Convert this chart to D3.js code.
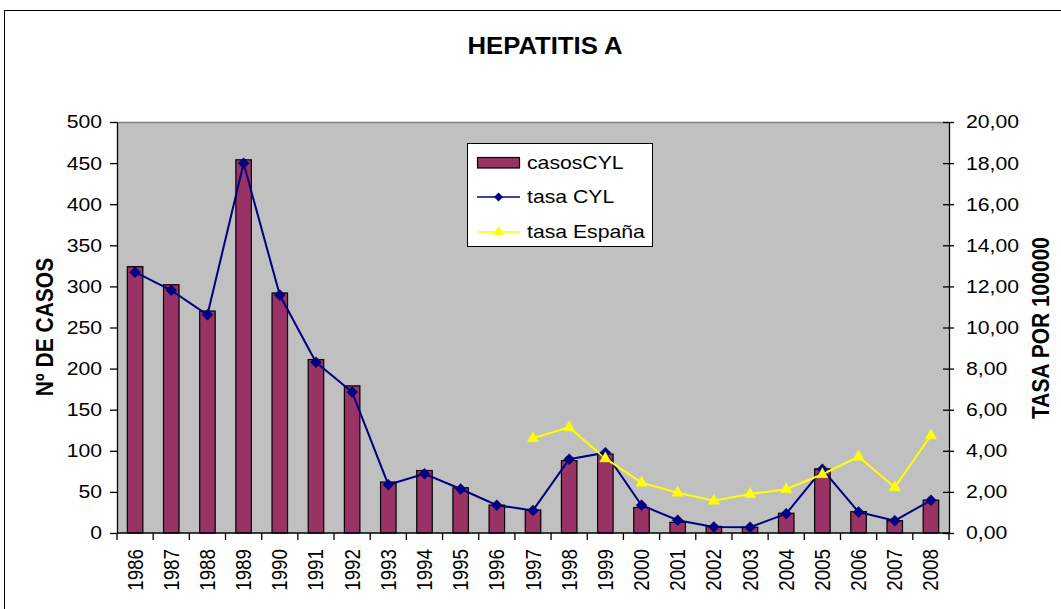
<!DOCTYPE html>
<html>
<head>
<meta charset="utf-8">
<script src="https://cdn.jsdelivr.net/npm/d3@7"></script>
<style>
  html, body { margin: 0; padding: 0; background: #fff; }
  svg { display: block; }
  text { font-family: "Liberation Sans", Arial, Helvetica, sans-serif; fill: #000; }
</style>
</head>
<body>
<svg id="chart" width="1061" height="609"></svg>
<script>
// Hepatitis A: reported cases in Castilla y León (bars, left axis)
// and rates per 100 000 inhabitants (lines, right axis).
const years = ["1986","1987","1988","1989","1990","1991","1992","1993","1994","1995","1996","1997",
               "1998","1999","2000","2001","2002","2003","2004","2005","2006","2007","2008"];
const casosCYL = [324, 302, 270, 454, 292, 211, 179, 62, 76, 55, 34, 28,
                  88, 96, 31, 13, 8, 7, 24, 78, 26, 15, 40];
const tasaCYL = [12.69, 11.81, 10.62, 17.99, 11.58, 8.31, 6.86, 2.35, 2.88, 2.14, 1.35, 1.10,
                 3.59, 3.91, 1.35, 0.62, 0.29, 0.28, 0.94, 3.10, 1.02, 0.60, 1.59];
const yearsEsp = ["1997","1998","1999","2000","2001","2002","2003","2004","2005","2006","2007","2008"];
const tasaEspana = [4.61, 5.14, 3.63, 2.45, 1.96, 1.57, 1.90, 2.13, 2.86, 3.71, 2.22, 4.75];
const casosTicks = [0, 50, 100, 150, 200, 250, 300, 350, 400, 450, 500];
const tasaTicks = [0, 2, 4, 6, 8, 10, 12, 14, 16, 18, 20];
const seriesNames = ["casosCYL", "tasa CYL", "tasa España"];

const svg = d3.select("#chart");
const X0 = 117, X1 = 949, Y0 = 533, Y1 = 122;
const STRETCH = 1.14;  // wide lettering used throughout the chart

const x = d3.scaleBand().domain(years).range([X0, X1]).paddingInner(0).paddingOuter(0);
const yL = d3.scaleLinear().domain([0, 500]).range([Y0, Y1]);
const yR = d3.scaleLinear().domain([0, 20]).range([Y0, Y1]);
const fmtRate = v => d3.format(".2f")(v).replace(".", ",");

// outer chart frame
svg.append("rect").attr("x", 4.5).attr("y", 10.5).attr("width", 1200).attr("height", 800)
  .attr("fill", "#fff").attr("stroke", "#000").attr("stroke-width", 1);

// title
svg.append("g").attr("transform", "translate(545,54)")
  .append("text").attr("text-anchor", "middle").attr("transform", "scale(1.07,1)")
  .style("font-size", "24px").style("font-weight", "bold").text("HEPATITIS A");

// plot area
svg.append("rect").attr("x", X0).attr("y", Y1).attr("width", X1 - X0).attr("height", Y0 - Y1)
  .attr("fill", "#C0C0C0");
svg.append("line").attr("x1", X0).attr("x2", X1).attr("y1", Y1 + 0.5).attr("y2", Y1 + 0.5)
  .attr("stroke", "#808080").attr("stroke-width", 1.5);

// bars
const barW = 15.5;
svg.append("g").selectAll("rect").data(years).join("rect")
  .attr("x", d => x(d) + x.bandwidth() / 2 - barW / 2)
  .attr("y", (d, i) => yL(casosCYL[i]))
  .attr("width", barW)
  .attr("height", (d, i) => Y0 - yL(casosCYL[i]))
  .attr("fill", "#993366").attr("stroke", "#000").attr("stroke-width", 1.2);

function stretchAxisText(g) {
  g.selectAll("text").each(function () {
    const t = d3.select(this);
    const xv = +t.attr("x") || 0;
    t.attr("x", xv / STRETCH).attr("transform", `scale(${STRETCH},1)`);
  });
}

// left axis
const axL = svg.append("g").attr("transform", `translate(${X0},0)`)
  .call(d3.axisLeft(yL).tickValues(casosTicks).tickSize(7).tickPadding(8).tickSizeOuter(0));
axL.select(".domain").attr("stroke", "#000").attr("stroke-width", 1.3);
axL.selectAll("line").attr("stroke", "#000").attr("stroke-width", 1.3);
axL.selectAll("text").style("font-size", "18.6px").style("font-family", null);
axL.call(stretchAxisText);

// right axis (ticks cross the axis line)
const axR = svg.append("g").attr("transform", `translate(${X1},0)`)
  .call(d3.axisRight(yR).tickValues(tasaTicks).tickFormat(fmtRate).tickSize(5).tickPadding(12).tickSizeOuter(0));
axR.select(".domain").attr("stroke", "#000").attr("stroke-width", 1.3);
axR.selectAll(".tick line").attr("x1", -6).attr("stroke", "#000").attr("stroke-width", 1.3);
axR.selectAll("text").style("font-size", "18.6px").style("font-family", null);
axR.call(stretchAxisText);
svg.append("line").attr("x1", X1).attr("x2", X1).attr("y1", Y0).attr("y2", Y0 + 7)
  .attr("stroke", "#000").attr("stroke-width", 1.3);

// bottom axis: ticks on category boundaries, labels rotated
const axB = svg.append("g");
axB.append("line").attr("x1", X0).attr("x2", X1).attr("y1", Y0).attr("y2", Y0)
  .attr("stroke", "#000").attr("stroke-width", 1.3);
axB.selectAll("line.tk").data(years).join("line").attr("class", "tk")
  .attr("x1", d => x(d)).attr("x2", d => x(d)).attr("y1", Y0).attr("y2", Y0 + 7)
  .attr("stroke", "#000").attr("stroke-width", 1.3);
axB.selectAll("g.lbl").data(years).join("g").attr("class", "lbl")
  .attr("transform", d => `translate(${x(d) + x.bandwidth() / 2},549)`)
  .append("text").attr("text-anchor", "end").attr("dy", "0.35em")
  .attr("transform", `scale(${STRETCH},1) rotate(-90)`)
  .style("font-size", "18.8px").text(d => d);

// axis titles
svg.append("g").attr("transform", "translate(45,327)")
  .append("text").attr("text-anchor", "middle").attr("dy", "0.35em")
  .attr("transform", `scale(1.12,1) rotate(-90)`)
  .style("font-size", "21px").style("font-weight", "bold").text("Nº DE CASOS");
svg.append("g").attr("transform", "translate(1041,328)")
  .append("text").attr("text-anchor", "middle").attr("dy", "0.35em")
  .attr("transform", `scale(1.12,1) rotate(-90)`)
  .style("font-size", "21px").style("font-weight", "bold").text("TASA POR 100000");

// rate lines
const lineCYL = d3.line().x((d, i) => x(years[i]) + x.bandwidth() / 2).y(d => yR(d));
svg.append("path").datum(tasaCYL).attr("d", lineCYL)
  .attr("fill", "none").attr("stroke", "#000080").attr("stroke-width", 2);

const lineEsp = d3.line().x((d, i) => x(yearsEsp[i]) + x.bandwidth() / 2).y(d => yR(d));
svg.append("path").datum(tasaEspana).attr("d", lineEsp)
  .attr("fill", "none").attr("stroke", "#FFFF00").attr("stroke-width", 2);

// markers
const diamond = s => `M0,${-s}L${s},0L0,${s}L${-s},0Z`;
const triangle = s => `M0,${-s}L${s},${s * 0.8}L${-s},${s * 0.8}Z`;
svg.append("g").selectAll("path").data(tasaCYL).join("path")
  .attr("transform", (d, i) => `translate(${x(years[i]) + x.bandwidth() / 2},${yR(d)})`)
  .attr("d", diamond(5.5)).attr("fill", "#000080").attr("stroke", "#000080").attr("stroke-width", 0.5);
svg.append("g").selectAll("path").data(tasaEspana).join("path")
  .attr("transform", (d, i) => `translate(${x(yearsEsp[i]) + x.bandwidth() / 2},${yR(d) - 1})`)
  .attr("d", triangle(5.6)).attr("fill", "#FFFF00").attr("stroke", "#FFFF00").attr("stroke-width", 0.5);

// legend
const lg = svg.append("g");
lg.append("rect").attr("x", 467.5).attr("y", 143.5).attr("width", 185).attr("height", 103)
  .attr("fill", "#fff").attr("stroke", "#000").attr("stroke-width", 1);
const rowY = [162.5, 197, 232];
lg.append("rect").attr("x", 477.5).attr("y", rowY[0] - 5).attr("width", 42).attr("height", 10.5)
  .attr("fill", "#993366").attr("stroke", "#000").attr("stroke-width", 1.2);
lg.append("line").attr("x1", 477).attr("x2", 520).attr("y1", rowY[1]).attr("y2", rowY[1])
  .attr("stroke", "#000080").attr("stroke-width", 1.5);
lg.append("path").attr("transform", `translate(498.5,${rowY[1]})`).attr("d", diamond(4.5))
  .attr("fill", "#000080");
lg.append("line").attr("x1", 477).attr("x2", 520).attr("y1", rowY[2]).attr("y2", rowY[2])
  .attr("stroke", "#FFFF00").attr("stroke-width", 1.5);
lg.append("path").attr("transform", `translate(498.5,${rowY[2] - 1})`).attr("d", triangle(5))
  .attr("fill", "#FFFF00");
lg.selectAll("g.lt").data(seriesNames).join("g").attr("class", "lt")
  .attr("transform", (d, i) => `translate(527,${rowY[i] + 6.3})`)
  .append("text").attr("transform", `scale(${STRETCH},1)`)
  .style("font-size", "18.6px").text(d => d);
</script>
</body>
</html>
